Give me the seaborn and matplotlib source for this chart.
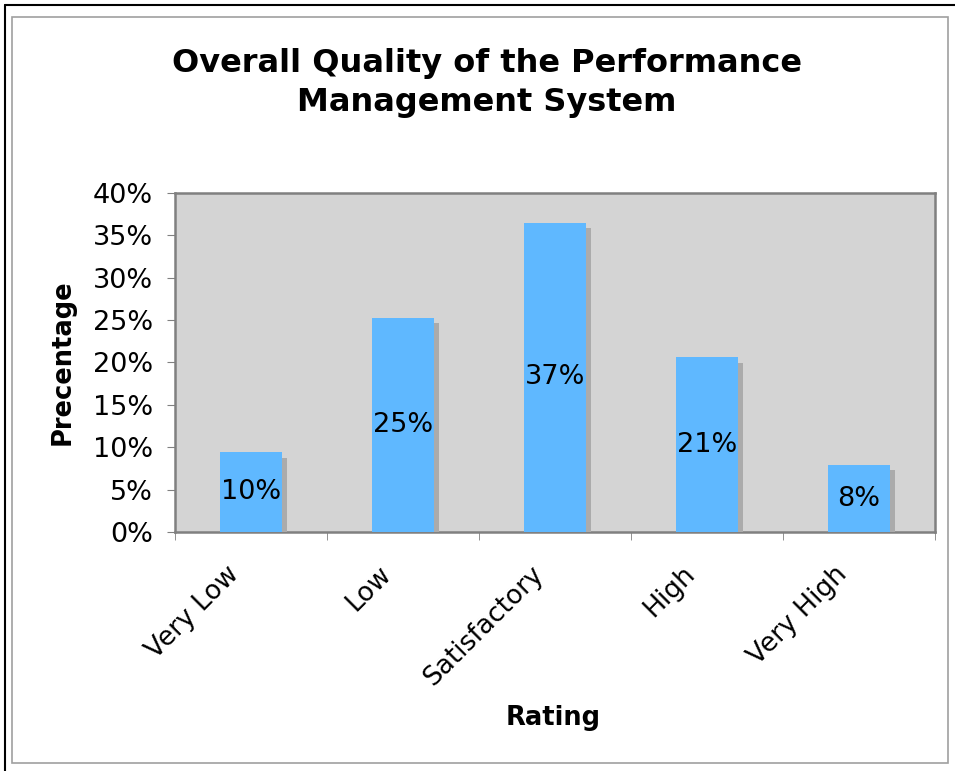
import matplotlib.pyplot as plt
import matplotlib.patheffects as pe
from matplotlib.ticker import PercentFormatter, FixedLocator
from matplotlib.lines import Line2D
from matplotlib.patches import Rectangle
import pandas as pd
import seaborn as sns

# values
ratings = ["Very Low", "Low", "Satisfactory", "High", "Very High"]
shares = [0.094, 0.253, 0.365, 0.206, 0.079]
bar_labels = ["10%", "25%", "37%", "21%", "8%"]

df = pd.DataFrame({"Rating": ratings, "Share": shares})

sns.set_style("white")
plt.rcParams["font.family"] = ["DejaVu Sans"]
plt.rcParams["text.color"] = "black"
plt.rcParams["xtick.color"] = "black"
plt.rcParams["ytick.color"] = "black"

fig = plt.figure(figsize=(9.55, 7.71), dpi=100)
ax = fig.add_axes([0.1832, 0.31, 0.7958, 0.4397])

sns.barplot(data=df, x="Rating", y="Share", color="#5fb8ff", width=0.41,
            saturation=1, linewidth=0, ax=ax, zorder=3)
for bar in ax.patches:
    bar.set_path_effects([pe.SimplePatchShadow(offset=(3.8, -3.8),
                                               shadow_rgbFace="#ababab", alpha=1),
                          pe.Normal()])
ax.bar_label(ax.containers[0], labels=bar_labels, label_type="center",
             fontsize=19.5, color="black")

ax.set_facecolor("#d4d4d4")
ax.set_ylim(0, 0.40)
ax.set_xlim(-0.5, 4.5)
ax.yaxis.set_major_locator(FixedLocator([i * 0.05 for i in range(9)]))
ax.yaxis.set_major_formatter(PercentFormatter(1, decimals=0))
ax.tick_params(axis="y", labelsize=19.5, length=6, color="#808080", pad=10,
               labelcolor="black", left=True)

# category labels sit a little left of each bar centre, as in the original
ax.set_xticks([i - 0.165 for i in range(len(ratings))], ratings)
ax.tick_params(axis="x", which="major", length=0, labelsize=19, pad=21,
               labelcolor="black")
ax.set_xticks([i - 0.5 for i in range(len(ratings) + 1)], minor=True)
ax.tick_params(axis="x", which="minor", length=6, color="#808080", bottom=True)
plt.setp(ax.get_xticklabels(), rotation=45, ha="right", va="top",
         rotation_mode="anchor")
for s in ax.spines.values():
    s.set_color("#808080")
    s.set_linewidth(1.8)

ax.set_xlabel("")
ax.set_ylabel("")
fig.text(63 / 955, 1 - 362 / 771, "Precentage", rotation=90, fontsize=18.5,
         fontweight="bold", ha="center", va="center")
fig.text(553 / 955, 1 - 718 / 771, "Rating", fontsize=18.5, fontweight="bold",
         ha="center", va="center")
fig.text(487 / 955, 1 - 83 / 771,
         "Overall Quality of the Performance\nManagement System",
         fontsize=23, fontweight="bold", ha="center", va="center",
         linespacing=1.3)

# page frame
fig.patches.append(Rectangle((12 / 955, 1 - 763 / 771), 936 / 955, 746 / 771,
                             transform=fig.transFigure, fill=False,
                             edgecolor="#a0a0a0", linewidth=1.2))
fig.lines.append(Line2D([5 / 955, 1], [1 - 5 / 771, 1 - 5 / 771],
                        transform=fig.transFigure, color="black", linewidth=1.5))
fig.lines.append(Line2D([5 / 955, 5 / 955], [0, 1 - 5 / 771],
                        transform=fig.transFigure, color="black", linewidth=1.5))

fig.savefig("out.png", dpi=100, facecolor="white")
